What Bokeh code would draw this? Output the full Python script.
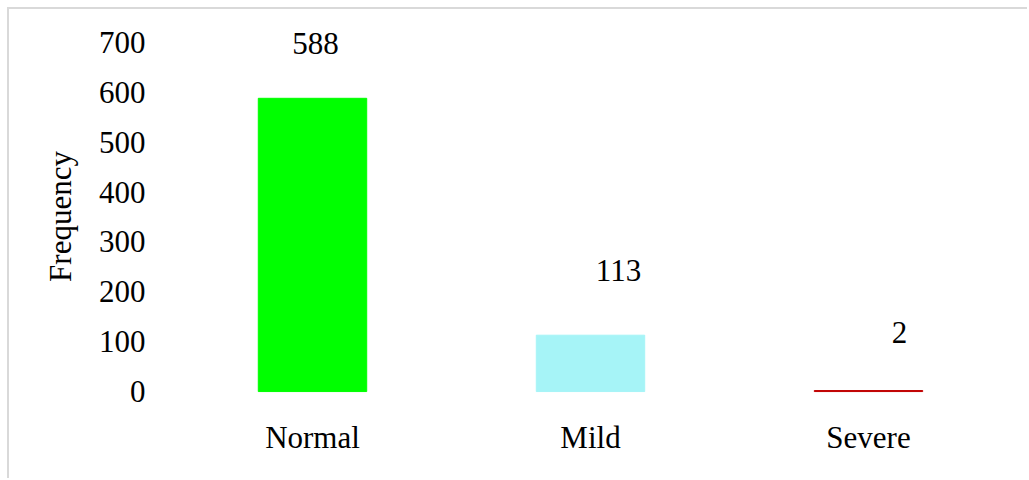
from bokeh.plotting import figure
from bokeh.models import ColumnDataSource, Range1d, FixedTicker
from bokeh.core.properties import value
from bokeh.embed import file_html
from bokeh.resources import INLINE

categories = ["Normal", "Mild", "Severe"]
counts = [588, 113, 2]
bar_colors = ["#00FF00", "#A6F4F7", "#C00000"]
y_ticks = [0, 100, 200, 300, 400, 500, 600, 700]

# label placement styling (pixels, screen y grows downward)
label_dx = [3, 28, 31]
label_dy = [-55, -65, -58]

FONT = "Liberation Serif"
FS = "31px"

src = ColumnDataSource(dict(cat=categories, val=counts, color=bar_colors,
                            txt=[str(c) for c in counts], dx=label_dx, dy=label_dy))

p = figure(x_range=categories, y_range=Range1d(-42, 744),
           width=1020, height=471, output_backend="svg", toolbar_location=None,
           min_border_left=164, min_border_right=22, min_border_top=11, min_border_bottom=68)
p.x_range.range_padding = 0
p.styles = {"margin-left": "7px", "margin-top": "7px",
            "border-left": "2px solid #D9D9D9", "border-top": "2px solid #D9D9D9"}

p.vbar(x="cat", top="val", width=0.39, bottom=0, source=src,
       fill_color="color", line_color="color", line_width=1)

p.text(x="cat", y="val", text="txt", source=src, x_offset="dx", y_offset="dy",
       text_align="center", text_baseline="middle",
       text_font=value(FONT), text_font_size=FS, text_color="black")

p.xgrid.visible = False
p.ygrid.visible = False
p.outline_line_color = None

p.yaxis.ticker = FixedTicker(ticks=y_ticks)
p.yaxis.axis_label = "Frequency"
p.yaxis.axis_label_text_font = FONT
p.yaxis.axis_label_text_font_size = FS
p.yaxis.axis_label_text_font_style = "normal"
p.yaxis.axis_label_text_color = "black"
p.yaxis.axis_label_standoff = 18

for ax in (p.xaxis, p.yaxis):
    ax.axis_line_color = None
    ax.major_tick_line_color = None
    ax.minor_tick_line_color = None
    ax.major_tick_out = 0
    ax.major_tick_in = 0
    ax.minor_tick_out = 0
    ax.major_label_text_font = FONT
    ax.major_label_text_font_size = FS
    ax.major_label_text_color = "black"

p.yaxis.major_label_standoff = 28
p.xaxis.major_label_standoff = 7

open("out.html", "w").write(file_html(p, INLINE))
